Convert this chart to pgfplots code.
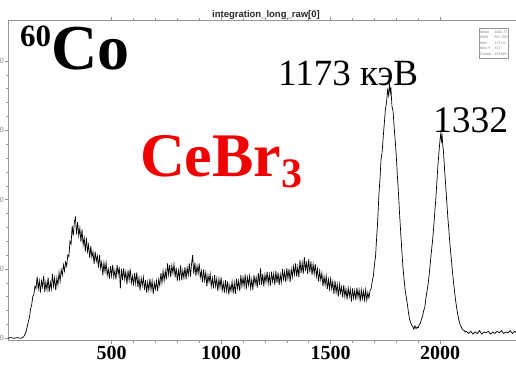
\documentclass[border=0pt]{standalone}
\usepackage{pgfplots}
\pgfplotsset{compat=1.18}
\usepackage{fontspec}
\setmainfont{Liberation Serif}
\setsansfont{Liberation Sans}
\definecolor{framegray}{RGB}{150,150,150}
\definecolor{cered}{RGB}{240,0,0}
\begin{document}
\begin{tikzpicture}
\begin{axis}[
  scale only axis, width=508.8pt, height=320.5pt,
  at={(8pt,23.3pt)}, anchor=south west,
  xmin=27, xmax=2350, ymin=-3.5, ymax=459,
  xtick={500,1000,1500,2000}, minor x tick num=4,
  ytick={0,100,200,300,400}, minor y tick num=4,
  tick align=outside, major tick length=3pt, minor tick length=2pt,
  axis line style={draw=framegray, line width=0.8pt},
  tick style={draw=framegray, line width=0.6pt},
  /pgf/number format/assume math mode=true,
  /pgf/number format/1000 sep={},
  xticklabel style={font=\fontsize{20}{20}\selectfont\bfseries, inner sep=0pt, yshift=-2.5pt},
  yticklabel style={font=\sffamily\fontsize{7}{7}\selectfont, text=gray, inner sep=1pt},
]
\addplot[black, line width=0.7pt] coordinates {
(27,0)(40,1)(55,0)(70,1)(85,0)(95,1)(100,3)(105,6)(110,10)(115,17)(120,24)(125,30)(130,42)(135,48)(140,60)(145,63)(150,75)(155,72)
(160,89)(165,71)(170,83)(175,66)(180,83)(185,74)(190,90)(195,67)(200,81)(205,70)(210,88)(215,67)(220,81)(225,71)(230,93)(235,75)(240,87)(245,69)(250,87)(255,77)
(260,95)(265,82)(270,99)(275,91)(280,106)(285,97)(290,110)(295,104)(300,120)(305,118)(310,140)(315,136)(320,162)(325,148)(330,168)(335,174)(340,150)(345,168)(350,148)(355,159)
(360,139)(365,157)(370,135)(375,145)(380,125)(385,145)(390,125)(395,135)(400,116)(405,133)(410,117)(415,125)(420,107)(425,125)(430,111)(435,119)(440,102)(445,120)(450,101)(455,110)
(460,91)(465,109)(470,96)(475,109)(480,91)(485,100)(490,86)(495,104)(500,90)(505,106)(510,88)(515,98)(520,85)(525,106)(530,92)(535,103)(540,72)(545,100)(550,84)(555,101)
(560,85)(565,96)(570,78)(575,98)(580,84)(585,100)(590,80)(595,90)(600,76)(605,94)(610,79)(615,95)(620,74)(625,87)(630,69)(635,87)(640,76)(645,88)(650,70)(655,84)
(660,66)(665,81)(670,69)(675,86)(680,70)(685,83)(690,64)(695,80)(700,71)(705,83)(710,68)(715,85)(720,76)(725,94)(730,80)(735,97)(740,83)(745,97)(750,85)(755,108)
(760,92)(765,106)(770,88)(775,105)(780,94)(785,107)(790,88)(795,102)(800,83)(805,98)(810,86)(815,105)(820,84)(825,98)(830,87)(835,103)(840,85)(845,102)(850,91)(855,108)
(860,89)(865,107)(870,120)(875,93)(880,109)(885,90)(890,105)(895,93)(900,108)(905,88)(910,97)(915,81)(920,99)(925,83)(930,95)(935,75)(940,91)(945,81)(950,93)(955,75)
(960,87)(965,72)(970,91)(975,75)(980,86)(985,68)(990,86)(995,73)(1000,88)(1005,69)(1010,80)(1015,66)(1020,84)(1025,68)(1030,82)(1035,63)(1040,77)(1045,68)(1050,82)(1055,65)
(1060,80)(1065,64)(1070,86)(1075,72)(1080,83)(1085,68)(1090,91)(1095,75)(1100,88)(1105,75)(1110,92)(1115,71)(1120,88)(1125,77)(1130,90)(1135,72)(1140,85)(1145,70)(1150,91)(1155,78)
(1160,88)(1165,73)(1170,94)(1175,77)(1180,101)(1185,77)(1190,93)(1195,75)(1200,92)(1205,81)(1210,96)(1215,79)(1220,92)(1225,76)(1230,96)(1235,82)(1240,93)(1245,77)(1250,97)(1255,80)
(1260,95)(1265,77)(1270,92)(1275,81)(1280,100)(1285,85)(1290,96)(1295,81)(1300,101)(1305,86)(1310,100)(1315,81)(1320,100)(1325,88)(1330,104)(1335,92)(1340,108)(1345,89)(1350,103)(1355,88)
(1360,113)(1365,94)(1370,109)(1375,93)(1380,117)(1385,97)(1390,111)(1395,93)(1400,114)(1405,95)(1410,111)(1415,91)(1420,107)(1425,93)(1430,107)(1435,89)(1440,100)(1445,82)(1450,97)(1455,84)
(1460,94)(1465,75)(1470,89)(1475,77)(1480,90)(1485,71)(1490,85)(1495,71)(1500,86)(1505,71)(1510,82)(1515,64)(1520,83)(1525,66)(1530,78)(1535,60)(1540,78)(1545,65)(1550,74)(1555,59)
(1560,77)(1565,60)(1570,71)(1575,56)(1580,73)(1585,60)(1590,71)(1595,53)(1600,72)(1605,58)(1610,69)(1615,55)(1620,73)(1625,59)(1630,70)(1635,53)(1640,70)(1645,57)(1650,68)(1655,55)
(1660,70)(1665,55)(1670,66)(1675,58)(1680,69)
(1685,72)(1690,82)(1695,90)(1700,106)(1705,118)(1710,145)(1715,170)(1720,205)(1725,228)(1730,258)(1735,268)(1740,290)(1745,310)(1750,330)(1755,340)(1760,358)(1765,350)(1768,368)(1772,355)(1775,362)
(1780,335)(1785,328)(1790,305)(1795,285)(1800,262)(1805,233)(1810,208)(1815,178)(1820,152)(1825,127)(1830,103)(1835,86)(1840,70)(1845,60)(1850,50)(1855,38)(1860,28)(1865,23)(1870,19)(1875,17)
(1880,13)(1885,18)(1890,14)(1895,16)(1900,15)(1905,20)(1910,22)(1915,28)(1920,32)(1925,40)(1930,45)(1935,58)(1940,68)(1945,78)(1950,92)(1955,108)(1960,125)(1965,140)(1970,158)(1975,180)
(1980,200)(1985,225)(1990,250)(1995,270)(2000,288)(2003,296)(2006,285)(2009,292)(2012,278)(2015,270)(2020,245)(2025,222)(2030,198)(2035,175)(2040,155)(2045,135)(2050,118)(2055,100)(2060,84)(2065,70)
(2070,56)(2075,45)(2080,35)(2085,27)(2090,21)(2095,17)(2100,14)(2105,12)(2110,11)(2115,9)(2120,10)
(2130,7)(2140,10)(2150,6)(2160,9)(2170,7)(2180,11)(2190,6)(2200,9)(2210,8)(2220,10)(2230,6)(2240,9)(2250,7)(2260,10)(2270,8)(2280,11)(2290,7)(2300,9)(2310,8)(2320,11)(2330,7)(2340,10)(2350,8)
};
\end{axis}
% title
\node[font=\sffamily\bfseries\fontsize{9.5}{9.5}\selectfont, text={rgb,255:red,40;green,40;blue,40}] at (266pt,349pt) {integration\_long\_raw[0]};
% stats box
\node[draw=framegray, fill=white, line width=0.4pt, inner sep=1pt, anchor=north west,
      font=\sffamily\fontsize{3.6}{5.6}\selectfont, text=gray, align=left] at (479pt,336pt)
 {\begin{tabular}{@{}l@{\hspace{3pt}}l@{}}Mean & 1162.77\\ RMS & 607.362\\ Max & 1771.0\\ Max Y & 371\\ Counts & 197646\end{tabular}};
% annotations
\node[anchor=base west, inner sep=0pt] at (20pt,294pt)
  {\bfseries\raisebox{23pt}{\fontsize{31}{31}\selectfont 60}\fontsize{64}{64}\selectfont Co};
\node[anchor=base west, inner sep=0pt, font=\fontsize{37}{37}\selectfont] at (278pt,278pt) {1173 кэВ};
\node[anchor=base west, inner sep=0pt, font=\fontsize{37.5}{37.5}\selectfont] at (433pt,231pt) {1332};
\node[anchor=base west, inner sep=0pt, text=cered] at (140pt,187pt)
  {\bfseries\fontsize{62}{62}\selectfont CeBr\raisebox{-11pt}{\fontsize{42}{42}\selectfont 3}};
\pgfresetboundingbox
\path[use as bounding box] (0pt,0pt) rectangle (516pt,364pt);
\end{tikzpicture}
\end{document}
